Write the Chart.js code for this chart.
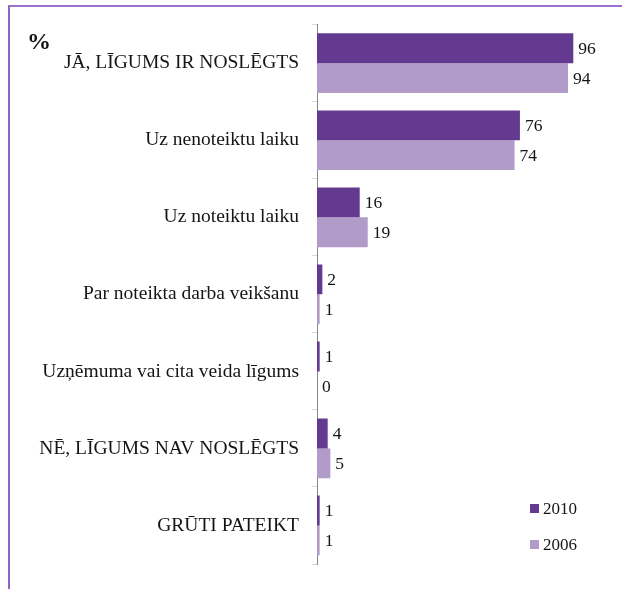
<!DOCTYPE html>
<html>
<head>
<meta charset="utf-8">
<script src="https://cdn.jsdelivr.net/npm/chart.js@4"></script>
<style>
  body { margin: 0; background: #fff; }
  #wrap { position: relative; width: 622px; height: 589px; }
  #frame {
    position: absolute; left: 8px; top: 5px; right: 0; bottom: 0;
    border-top: 2px solid #9a72cc; border-left: 2px solid #8f62c6;
  }
  #chart { position: absolute; left: 0; top: 0; }
</style>
</head>
<body>
<div id="wrap">
  <div id="frame"></div>
  <canvas id="chart" width="622" height="589"></canvas>
</div>
<script>
  const categories = [
    'JĀ, LĪGUMS IR NOSLĒGTS',
    'Uz nenoteiktu laiku',
    'Uz noteiktu laiku',
    'Par noteikta darba veikšanu',
    'Uzņēmuma vai cita veida līgums',
    'NĒ, LĪGUMS NAV NOSLĒGTS',
    'GRŪTI PATEIKT'
  ];
  const years = ['2010', '2006'];
  const values2010 = [96, 76, 16, 2, 1, 4, 1];
  const values2006 = [94, 74, 19, 1, 0, 5, 1];
  const colors = ['#643a90', '#b19cc9'];

  const serif = '"Liberation Serif", "Times New Roman", serif';
  const textColor = '#151515';

  // numbers next to the end of every bar
  const valueLabels = {
    id: 'valueLabels',
    afterDatasetsDraw(chart) {
      const ctx = chart.ctx;
      ctx.save();
      ctx.font = '17.5px ' + serif;
      ctx.fillStyle = textColor;
      ctx.textAlign = 'left';
      ctx.textBaseline = 'middle';
      chart.data.datasets.forEach((ds, i) => {
        chart.getDatasetMeta(i).data.forEach((bar, j) => {
          ctx.fillText(ds.data[j], bar.x + 5, bar.y + 1);
        });
      });
      ctx.restore();
    }
  };

  // "%" unit mark and the small legend at the bottom right
  const extras = {
    id: 'extras',
    afterDraw(chart) {
      const ctx = chart.ctx;
      ctx.save();
      ctx.fillStyle = textColor;
      ctx.font = 'bold 24px ' + serif;
      ctx.textBaseline = 'alphabetic';
      ctx.fillText('%', 27, 49);

      ctx.font = '17px ' + serif;
      ctx.textBaseline = 'middle';
      chart.data.datasets.forEach((ds, i) => {
        const y = 509 + i * 36;
        ctx.fillStyle = ds.backgroundColor;
        ctx.fillRect(530, y - 5, 9, 9);
        ctx.fillStyle = textColor;
        ctx.fillText(ds.label, 543, y + 1);
      });
      ctx.restore();
    }
  };

  new Chart(document.getElementById('chart'), {
    type: 'bar',
    data: {
      labels: categories,
      datasets: [
        { label: years[0], data: values2010, backgroundColor: colors[0] },
        { label: years[1], data: values2006, backgroundColor: colors[1] }
      ]
    },
    options: {
      indexAxis: 'y',
      responsive: false,
      animation: false,
      layout: { padding: { left: 0, right: 38, top: 22, bottom: 25 } },
      datasets: {
        bar: { barPercentage: 1, categoryPercentage: 0.775 }
      },
      scales: {
        x: { display: false, min: 0, max: 100 },
        y: {
          afterFit(scale) { scale.width = 317; },
          grid: {
            drawOnChartArea: false,
            drawTicks: true,
            tickLength: 5,
            color: '#d9d9d9'
          },
          border: { display: true, color: '#868686', width: 1 },
          ticks: {
            padding: 13,
            color: textColor,
            font: { family: serif, size: 19.5 }
          }
        }
      },
      plugins: {
        legend: { display: false },
        tooltip: { enabled: false }
      }
    },
    plugins: [valueLabels, extras]
  });
</script>
</body>
</html>
